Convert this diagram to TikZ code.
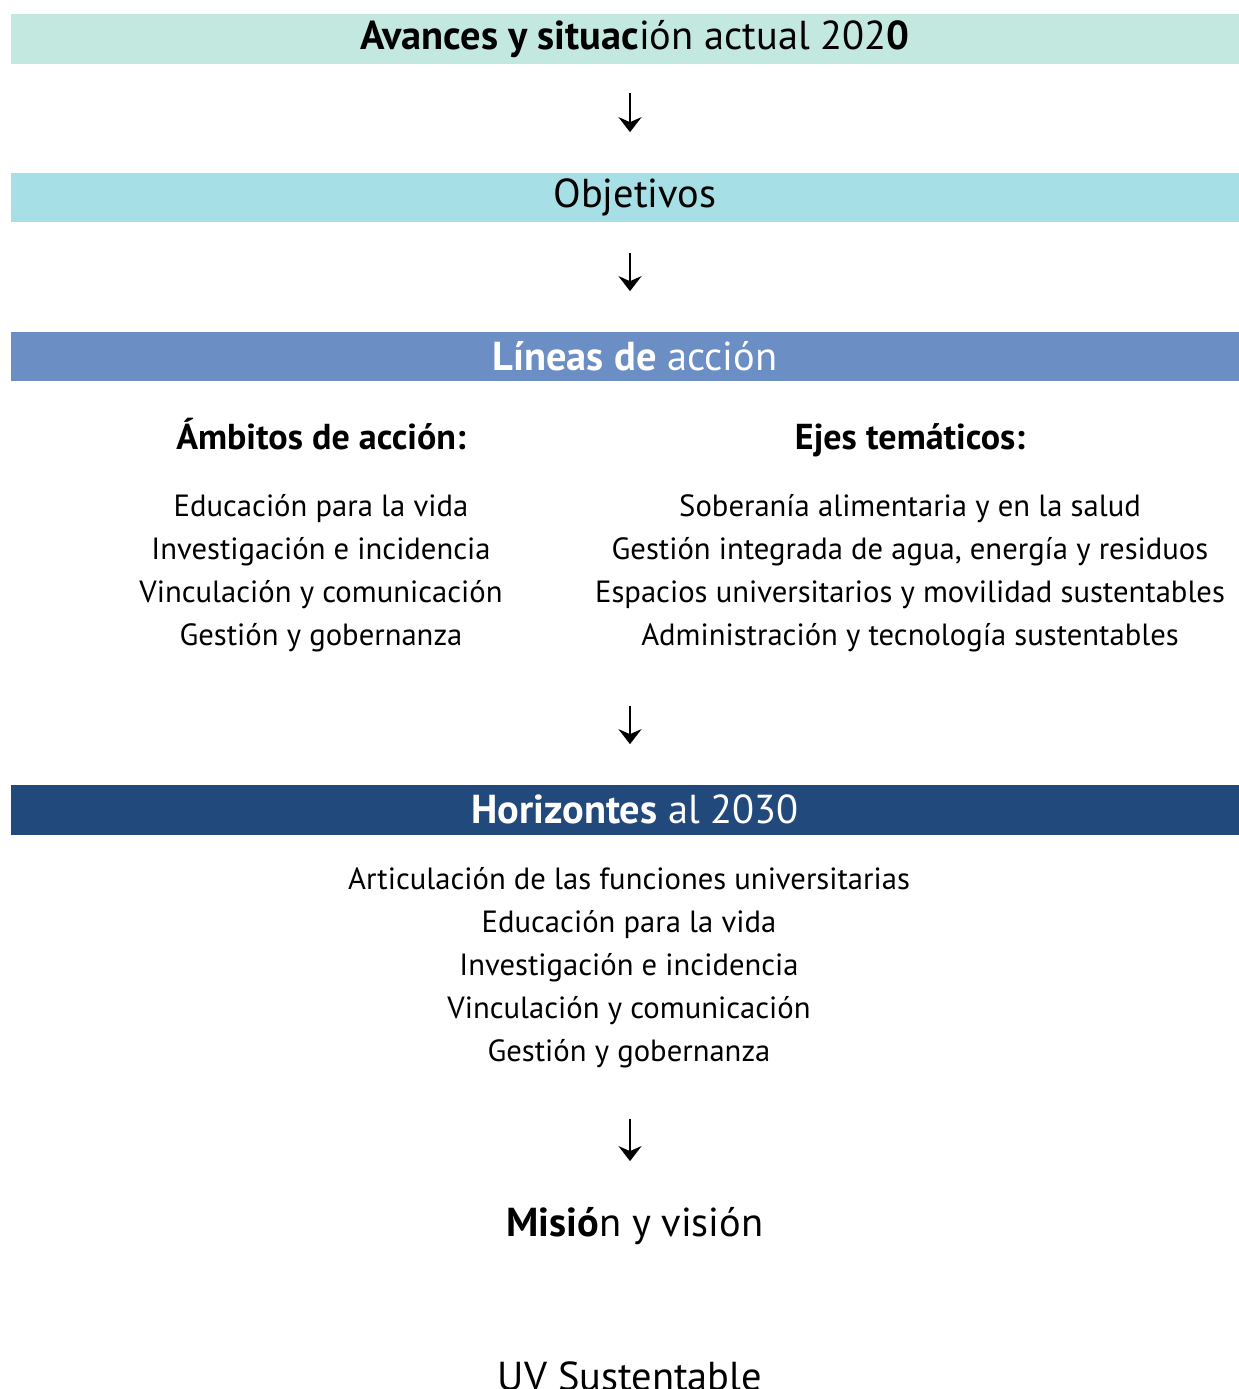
\documentclass[tikz,border=0pt]{standalone}
\usepackage{fontspec}
\setmainfont{PT Sans}
\usetikzlibrary{arrows.meta,positioning}
\definecolor{menta}{HTML}{C3E8DF}
\definecolor{celeste}{HTML}{A6DFE6}
\definecolor{azulmedio}{HTML}{6B8EC4}
\definecolor{azuloscuro}{HTML}{21497B}

\begin{document}
\begin{tikzpicture}
[x=0.02cm,y=-0.02cm,
 franja/.style={minimum width=24.96cm,minimum height=1cm,inner sep=0pt,font=\fontsize{23}{27}\selectfont},
 lista/.style={align=center,font=\fontsize{17.45}{24.5}\selectfont},
 encabezado/.style={anchor=base,font=\fontsize{20.5}{24}\selectfont\bfseries},
 titulo/.style={font=\fontsize{23}{27}\selectfont},
 flecha/.style={-{Stealth[length=0.3cm,width=0.46cm,inset=0.1cm]},line width=0.052cm}]
\useasboundingbox (0,0) rectangle (1239,1389);
\node[franja,fill=menta] (avances) at (635,39) {\textbf{Avances y situac}ión actual 202\textbf{0}};
\node[franja,fill=celeste] (objetivos) at (635,197.5) {Objetivos};
\node[franja,fill=azulmedio,text=white] (lineas) at (635,356.5) {\textbf{Líneas de} acción};
\node[encabezado] (ambitos) at (321,449) {Ámbitos de acción:};
\node[encabezado] (ejes) at (910,449) {Ejes temáticos:};
\node[lista] (listaA) at (321,573) {Educación para la vida\\Investigación e incidencia\\Vinculación y comunicación\\Gestión y gobernanza};
\node[lista] (listaE) at (910,573) {Soberanía alimentaria y en la salud\\Gestión integrada de agua, energía y residuos\\Espacios universitarios y movilidad sustentables\\Administración y tecnología sustentables};
\node[franja,fill=azuloscuro,text=white] (horizontes) at (635,809.5) {\textbf{Horizontes} al 2030};
\node[lista] (listaH) at (629,967.5) {Articulación de las funciones universitarias\\Educación para la vida\\Investigación e incidencia\\Vinculación y comunicación\\Gestión y gobernanza};
\node[titulo] (mision) at (635,1226) {\textbf{Misió}n y visión};
\node[titulo] (uv) at (630,1376) {UV Sustentable};
% flechas
\draw[flecha,shorten <=0.58cm,shorten >=0.8cm] ([xshift=-0.1cm]avances.south) -- ([xshift=-0.1cm]objetivos.north);
\draw[flecha,shorten <=0.6cm,shorten >=0.8cm] ([xshift=-0.1cm]objetivos.south) -- ([xshift=-0.1cm]lineas.north);
\draw[flecha,shorten <=6.48cm,shorten >=0.8cm] ([xshift=-0.1cm]lineas.south) -- ([xshift=-0.1cm]horizontes.north);
\draw[flecha,shorten <=5.68cm,shorten >=0.8cm] ([xshift=-0.1cm]horizontes.south) -- ([xshift=-0.1cm]mision.north);
\end{tikzpicture}
\end{document}
